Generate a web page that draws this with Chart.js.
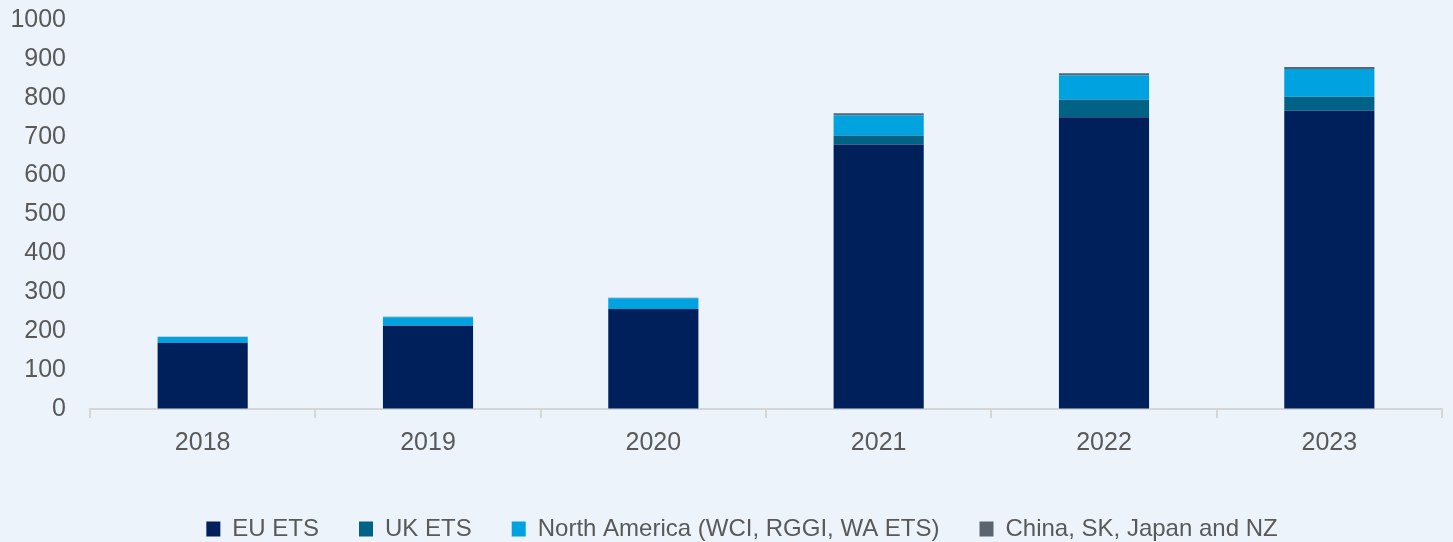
<!DOCTYPE html>
<html>
<head>
<meta charset="utf-8">
<script src="https://cdn.jsdelivr.net/npm/chart.js@4.4.0/dist/chart.umd.min.js"></script>
<style>
    html, body { margin: 0; padding: 0; background: #ECF3FA; }
    .chart-wrap { width: 1453px; height: 542px; }
</style>
</head>
<body>
<div class="chart-wrap"><canvas id="barChart"></canvas></div>
<script>
/* ======= Data ======= */
const years = ['2018', '2019', '2020', '2021', '2022', '2023'];
const euEts = [170, 214, 257, 680, 750, 767];
const ukEts = [0, 0, 0, 23, 45, 36];
const northAmerica = [15, 22, 28, 52, 63, 71];
const asiaPacific = [1, 1, 1, 5, 5, 5];
const yTicks = [0, 100, 200, 300, 400, 500, 600, 700, 800, 900, 1000];

const textColor = '#595959';
const fontFamily = 'Liberation Sans, Arial, sans-serif';

function makeSet(label, data, color) {
    return {
        label: label,
        data: data,
        backgroundColor: color,
        borderWidth: 0,
        barPercentage: 0.8,
        categoryPercentage: 0.5,
    };
}

/* ======= Stacked bar chart ======= */
// legend sits a little lower and right of the centre
const legendMargin = {
    id: 'legendMargin',
    beforeInit(chart) {
        const fitValue = chart.legend.fit;
        chart.legend.fit = function fit() {
            fitValue.bind(chart.legend)();
            return this.height -= 9;
        }
    },
    afterLayout(chart) {
        chart.legend.left += 21;
        chart.legend.right += 21;
    }
};

const ctx = document.getElementById('barChart');
new Chart(ctx, {
    type: 'bar',
    data: {
        labels: years,
        datasets: [
            makeSet('EU ETS', euEts, '#00205B'),
            makeSet('UK ETS', ukEts, '#006386'),
            makeSet('North America (WCI, RGGI, WA ETS)', northAmerica, '#00A3E0'),
            makeSet('China, SK, Japan and NZ', asiaPacific, '#5A6570'),
        ],
    },
    options: {
        responsive: true,
        maintainAspectRatio: false,
        animation: false,
        layout: {
            padding: { left: 0, right: 11, top: 20, bottom: 0 },
        },
        plugins: {
            legend: {
                position: 'bottom',
                align: 'center',
                labels: {
                    color: textColor,
                    boxWidth: 14,
                    boxHeight: 15,
                    padding: 40,
                    font: { family: fontFamily, size: 24 },
                },
            },
            tooltip: { enabled: false },
        },
        scales: {
            x: {
                stacked: true,
                afterFit(axis) {
                    axis.height += 9;
                },
                grid: {
                    offset: true,
                    drawOnChartArea: false,
                    drawTicks: true,
                    tickLength: 9,
                    color: '#D6D6D6',
                    lineWidth: 2,
                },
                border: { color: '#D6D6D6', width: 2 },
                ticks: {
                    color: textColor,
                    padding: 10,
                    font: { family: fontFamily, size: 25 },
                },
            },
            y: {
                stacked: true,
                min: 0,
                max: 1000,
                afterBuildTicks(axis) {
                    axis.ticks = yTicks.map(v => ({ value: v }));
                },
                afterFit(axis) {
                    axis.width = 90;
                },
                grid: {
                    display: true,
                    drawOnChartArea: false,
                    drawTicks: true,
                    tickLength: 24,
                    color: 'transparent',
                },
                border: { display: false },
                ticks: {
                    color: textColor,
                    padding: 0,
                    font: { family: fontFamily, size: 25 },
                    callback(value) {
                        return String(value);
                    },
                },
            },
        },
    },
    plugins: [legendMargin]
});
</script>
</body>
</html>
